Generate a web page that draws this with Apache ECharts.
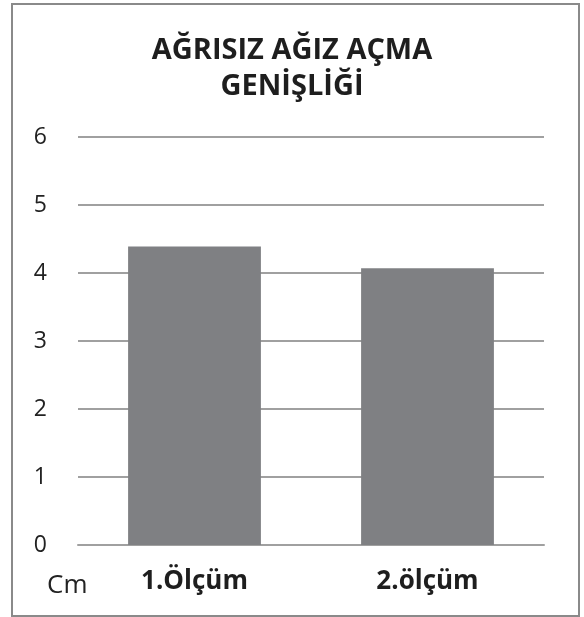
<!DOCTYPE html>
<html>
<head>
<meta charset="utf-8">
<style>
  html, body { margin: 0; padding: 0; background: #ffffff; }
  #chart { width: 584px; height: 617px; }
</style>
<script src="https://cdn.jsdelivr.net/npm/echarts@6/dist/echarts.min.js"></script>
</head>
<body>
<div id="chart"></div>
<script>
// Painless mouth opening width, two measurements (cm)
const titleText = 'AĞRISIZ AĞIZ AÇMA\nGENİŞLİĞİ';
const categories = ['1.Ölçüm', '2.ölçüm'];
const values = [4.39, 4.07];
const yTicks = [0, 1, 2, 3, 4, 5, 6];
const unitLabel = 'Cm';

const chart = echarts.init(document.getElementById('chart'), null, { renderer: 'canvas' });

const fontFamily = '"Open Sans", "Noto Sans", sans-serif';

chart.setOption({
  backgroundColor: '#ffffff',
  animation: false,
  title: {
    text: titleText,
    left: 'center',
    top: 28,
    textStyle: {
      fontFamily: fontFamily,
      fontWeight: 'bold',
      fontSize: 29,
      lineHeight: 36,
      color: '#1e1e1e'
    }
  },
  graphic: [
    {
      type: 'rect',
      shape: { x: 12, y: 4, width: 567, height: 612 },
      style: { fill: 'none', stroke: '#8a8a8a', lineWidth: 2 },
      silent: true,
      z: -1
    },
    {
      type: 'text',
      left: 47,
      top: 573,
      style: {
        text: unitLabel,
        fontFamily: fontFamily,
        fontSize: 26,
        fill: '#222222'
      }
    }
  ],
  grid: {
    left: 78,
    right: 40,
    top: 137,
    bottom: 72,
    containLabel: false
  },
  xAxis: {
    type: 'category',
    data: categories,
    axisLine: { show: true, lineStyle: { color: '#a0a0a0', width: 2 } },
    axisTick: { show: false },
    axisLabel: {
      margin: 24,
      fontFamily: fontFamily,
      fontWeight: 'bold',
      fontSize: 26,
      color: '#1e1e1e'
    }
  },
  yAxis: {
    type: 'value',
    min: yTicks[0],
    max: yTicks[yTicks.length - 1],
    interval: 1,
    axisLine: { show: false },
    axisTick: { show: false },
    axisLabel: {
      margin: 31,
      fontFamily: fontFamily,
      fontSize: 23,
      color: '#222222'
    },
    splitLine: { show: true, lineStyle: { color: '#a0a0a0', width: 2 } }
  },
  series: [
    {
      type: 'bar',
      data: values,
      barWidth: '57%',
      itemStyle: { color: '#7f8083' },
      z: 3
    }
  ]
});
</script>
</body>
</html>
